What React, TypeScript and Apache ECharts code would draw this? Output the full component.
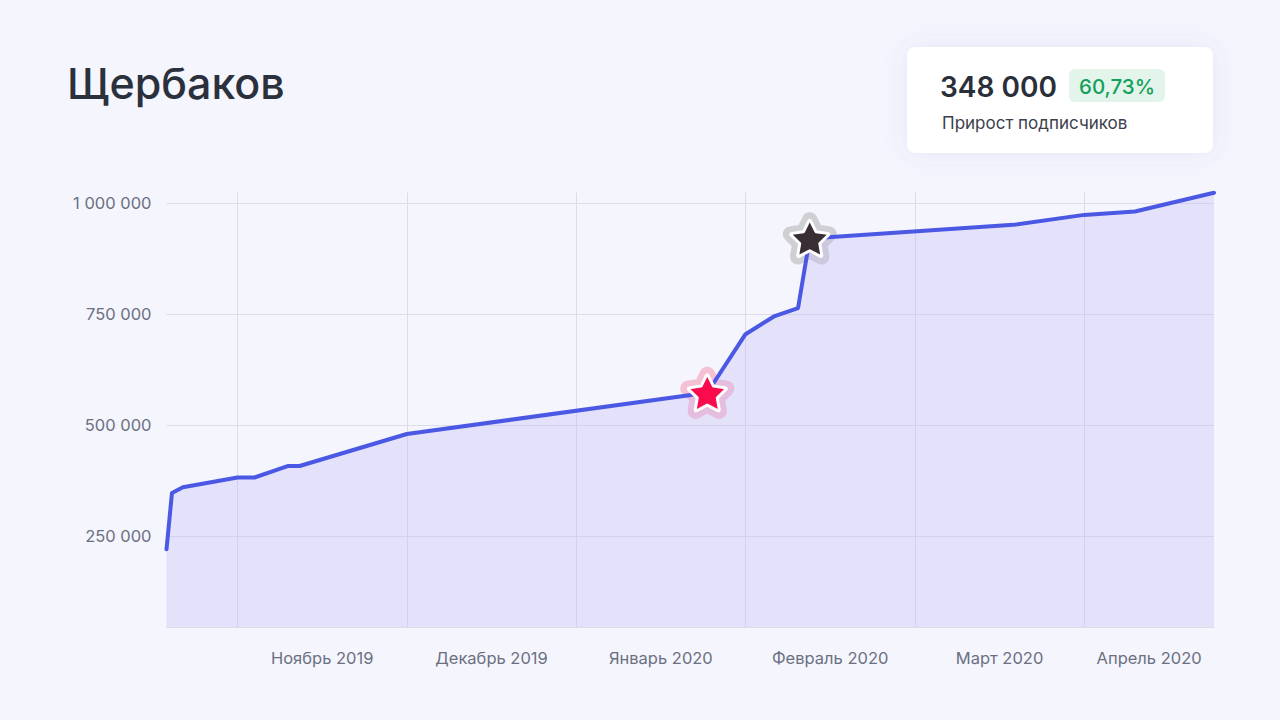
import React, { useEffect, useRef } from "react";
import * as echarts from "echarts";

// ---------- data ----------
const title = "Щербаков";
const cardCaption = "Прирост подписчиков";

const dates = [
  "2019-10-19", "2019-10-20", "2019-10-22", "2019-11-01", "2019-11-04",
  "2019-11-10", "2019-11-12", "2019-12-01", "2020-01-25", "2020-02-01",
  "2020-02-06", "2020-02-10", "2020-02-12", "2020-03-19", "2020-04-01",
  "2020-04-10", "2020-04-24",
];
const subscribers = [
  220000, 347000, 360000, 382000, 382000,
  408000, 408000, 480000, 573000, 705000,
  746000, 764000, 921000, 951500, 974000,
  981500, 1024000,
];
const monthLabels = [
  "Ноябрь 2019", "Декабрь 2019", "Январь 2020",
  "Февраль 2020", "Март 2020", "Апрель 2020",
];
const yTicks = [250000, 500000, 750000, 1000000];
const highlightFrom = 8; // red star
const highlightTo = 12; // dark star

// ---------- helpers ----------
// month scale: Oct 2019 = 0, Nov 2019 = 1, ... each month has equal width
function monthPos(d: string) {
  const [y, m, day] = d.split("-").map(Number);
  const idx = (y - 2019) * 12 + (m - 10);
  const dim = new Date(y, m, 0).getDate();
  return idx + (day - 1) / dim;
}
function fmt(v: number) {
  return String(Math.round(v)).replace(/\B(?=(\d{3})+(?!\d))/g, " ");
}

const STAR =
  "path://M47.36 5.36 Q50 0 52.64 5.36 L64.69 29.77 L91.64 33.69 Q97.55 34.55 93.27 38.72 L73.78 57.73 L78.38 84.56 Q79.39 90.45 74.10 87.67 L50 75 L25.90 87.67 Q20.61 90.45 21.62 84.56 L26.22 57.73 L6.73 38.72 Q2.45 34.55 8.36 33.69 L35.31 29.77 Z";

export default function App() {
  const ref = useRef<HTMLDivElement>(null);

  useEffect(() => {
    if (!ref.current) return;
    const chart = echarts.init(ref.current, undefined, { renderer: "svg" });

    const pts = dates.map((d, i) => [monthPos(d), subscribers[i]]);
    const xMin = pts[0][0];
    const xMax = pts[pts.length - 1][0];
    const yMax = Math.max(...subscribers);
    const monthStarts = monthLabels.map((_, i) => i + 1);
    const labelCenters = monthStarts.map((s) => (s + Math.min(s + 1, xMax)) / 2);

    const growth = subscribers[highlightTo] - subscribers[highlightFrom];
    const pct = ((growth / subscribers[highlightFrom]) * 100).toFixed(2).replace(".", ",") + "%";

    const font = "Inter, 'Noto Sans', sans-serif";
    const labelColor = "#6b7081";
    const gridColor = "#dcdde9";

    chart.setOption({
      animation: false,
      backgroundColor: "#f4f5fd",
      textStyle: { fontFamily: font },
      grid: { left: 166.5, right: 66, top: 192.7, bottom: 93, containLabel: false },
      xAxis: {
        type: "value",
        min: xMin,
        max: xMax,
        axisLine: { show: true, lineStyle: { color: gridColor, width: 1 } },
        axisTick: { show: false, customValues: monthStarts },
        splitLine: { show: true, lineStyle: { color: gridColor, width: 1 } },
        axisLabel: {
          customValues: labelCenters,
          color: labelColor,
          fontSize: 16.5,
          margin: 22,
          fontFamily: font,
          formatter: (v: number) => {
            const i = labelCenters.findIndex((c) => Math.abs(c - v) < 1e-6);
            return i >= 0 ? monthLabels[i] : "";
          },
        },
      },
      yAxis: {
        type: "value",
        min: 45000,
        max: yMax,
        axisLine: { show: false },
        axisTick: { show: false, customValues: yTicks },
        splitLine: { show: true, lineStyle: { color: gridColor, width: 1 } },
        axisLabel: {
          customValues: yTicks,
          color: labelColor,
          fontSize: 16.5,
          margin: 15,
          fontFamily: font,
          formatter: (v: number) => fmt(v),
        },
      },
      series: [
        {
          type: "line",
          data: pts,
          symbol: "none",
          z: 2,
          lineStyle: { color: "#4b58e4", width: 4, join: "round", cap: "round" },
          areaStyle: { color: "rgba(195,185,250,0.45)" },
        },
        {
          type: "scatter",
          z: 1,
          silent: true,
          symbol: STAR,
          symbolKeepAspect: true,
          data: [
            {
              value: pts[highlightFrom],
              symbolSize: 40,
              itemStyle: { opacity: 1, color: "#f5c0d4", borderColor: "#f5c0d4", borderWidth: 14, borderJoin: "round" },
            },
            {
              value: pts[highlightTo],
              symbolSize: 40,
              itemStyle: { opacity: 1, color: "#cfcfd4", borderColor: "#cfcfd4", borderWidth: 14, borderJoin: "round" },
            },
          ],
        },
        {
          type: "scatter",
          z: 3,
          silent: true,
          symbol: STAR,
          symbolKeepAspect: true,
          data: [
            {
              value: pts[highlightFrom],
              symbolSize: 38,
              itemStyle: { opacity: 1, color: "#fb0a4e", borderColor: "#ffffff", borderWidth: 3, borderJoin: "round" },
            },
            {
              value: pts[highlightTo],
              symbolSize: 38,
              itemStyle: { opacity: 1, color: "#392e33", borderColor: "#ffffff", borderWidth: 3, borderJoin: "round" },
            },
          ],
        },
      ],
      graphic: [
        {
          type: "text",
          left: 67,
          top: 61,
          style: { text: title, fill: "#2b313c", font: `500 43px ${font}` },
        },
        {
          type: "rect",
          shape: { x: 907, y: 47, width: 306, height: 106, r: 8 },
          style: { fill: "#ffffff", shadowBlur: 24, shadowColor: "rgba(90,100,170,0.10)" },
        },
        {
          type: "text",
          x: 940,
          y: 87,
          style: {
            text: fmt(growth),
            fill: "#2a2f3a",
            font: `600 28px ${font}`,
            textAlign: "left",
            textVerticalAlign: "middle",
          },
        },
        {
          type: "rect",
          shape: { x: 1069, y: 69, width: 96, height: 33, r: 6 },
          style: { fill: "#e3f5ea" },
        },
        {
          type: "text",
          x: 1117,
          y: 86,
          style: {
            text: pct,
            fill: "#14a05c",
            font: `500 20.5px ${font}`,
            textAlign: "center",
            textVerticalAlign: "middle",
          },
        },
        {
          type: "text",
          x: 942,
          y: 123,
          style: {
            text: cardCaption,
            fill: "#3b404c",
            font: `400 17px ${font}`,
            textAlign: "left",
            textVerticalAlign: "middle",
          },
        },
      ],
    });

    return () => chart.dispose();
  }, []);

  return (
    <div
      ref={ref}
      style={{ position: "fixed", left: 0, top: 0, width: 1280, height: 720, background: "#f4f5fd" }}
    />
  );
}
